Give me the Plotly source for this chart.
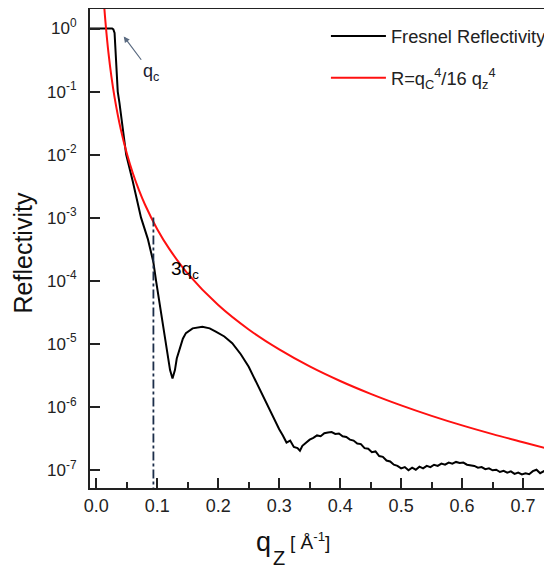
import plotly.graph_objects as go
import math

# ---- data ----
q_fresnel = [-0.0103, 0.0, 0.01, 0.02, 0.026, 0.028, 0.030, 0.0313, 0.033, 0.0352, 0.038, 0.0434,
             0.049, 0.0597, 0.0734, 0.0845, 0.0935, 0.098, 0.1005, 0.105, 0.109, 0.113, 0.117,
             0.121, 0.125, 0.129, 0.132, 0.136, 0.142, 0.147, 0.158, 0.174, 0.186, 0.196, 0.21,
             0.223, 0.237, 0.250, 0.261, 0.275, 0.288, 0.294,
             0.300, 0.306, 0.312, 0.318, 0.324, 0.330, 0.334, 0.338, 0.344, 0.350, 0.356, 0.362,
             0.368, 0.374, 0.380, 0.386, 0.392, 0.398, 0.404, 0.410, 0.416, 0.422, 0.428, 0.434,
             0.440, 0.446, 0.452, 0.458, 0.464, 0.470, 0.476, 0.482, 0.488, 0.494, 0.500, 0.506,
             0.512, 0.518, 0.524, 0.530, 0.536, 0.542, 0.548, 0.554, 0.560, 0.566, 0.572, 0.578,
             0.584, 0.590, 0.596, 0.602, 0.608, 0.614, 0.620, 0.626, 0.632, 0.638, 0.644, 0.650,
             0.656, 0.662, 0.668, 0.674, 0.680, 0.686, 0.692, 0.698, 0.704, 0.710, 0.716, 0.722,
             0.728, 0.734, 0.740, 0.745]
r_fresnel = [1.0, 1.0, 1.0, 1.0, 1.0, 0.97, 0.85, 0.5, 0.2, 0.1, 0.066, 0.025,
             0.01, 3.8e-3, 1.0e-3, 4.6e-4, 2.0e-4, 1.0e-4, 7.0e-5, 4.0e-5, 2.4e-5, 1.3e-5, 7.0e-6,
             3.8e-6, 2.8e-6, 3.8e-6, 5.8e-6, 8.0e-6, 1.2e-5, 1.47e-5, 1.75e-5, 1.86e-5, 1.75e-5, 1.55e-5, 1.3e-5,
             1.02e-5, 6.8e-6, 4.3e-6, 2.6e-6, 1.35e-6, 7.9e-7, 5.8e-7,
             4.4e-7, 3.5e-7, 2.7e-7, 2.9e-7, 2.3e-7, 2.2e-7, 2.0e-7, 2.4e-7, 2.7e-7, 3.0e-7, 3.2e-7, 3.5e-7,
             3.4e-7, 3.8e-7, 3.9e-7, 3.95e-7, 3.7e-7, 3.75e-7, 3.4e-7, 3.3e-7, 3.0e-7, 2.9e-7, 2.6e-7, 2.55e-7,
             2.2e-7, 2.15e-7, 1.9e-7, 1.95e-7, 1.65e-7, 1.6e-7, 1.4e-7, 1.35e-7, 1.2e-7, 1.15e-7, 1.05e-7, 1.1e-7,
             0.98e-7, 1.08e-7, 1.0e-7, 1.12e-7, 1.05e-7, 1.15e-7, 1.1e-7, 1.2e-7, 1.15e-7, 1.25e-7, 1.2e-7, 1.3e-7,
             1.25e-7, 1.33e-7, 1.28e-7, 1.3e-7, 1.2e-7, 1.18e-7, 1.15e-7, 1.08e-7, 1.1e-7, 1.02e-7, 1.05e-7, 0.98e-7,
             1.0e-7, 0.92e-7, 0.96e-7, 0.9e-7, 0.94e-7, 0.86e-7, 0.9e-7, 0.84e-7, 0.88e-7, 0.85e-7, 0.95e-7, 1.0e-7,
             0.88e-7, 0.95e-7, 0.87e-7, 0.9e-7]

q_asym = [0.0128, 0.015, 0.02, 0.025, 0.03, 0.04, 0.05, 0.06, 0.07, 0.08, 0.10, 0.12, 0.15,
          0.20, 0.25, 0.30, 0.35, 0.40, 0.45, 0.50, 0.55, 0.60, 0.65, 0.70, 0.745]
r_asym = [2.4, 1.29, 0.41, 0.168, 0.081, 0.0256, 0.0105, 5.05e-3, 2.73e-3, 1.6e-3, 6.55e-4, 3.16e-4, 1.29e-4,
          4.1e-5, 1.68e-5, 8.1e-6, 4.36e-6, 2.56e-6, 1.6e-6, 1.05e-6, 7.16e-7, 5.05e-7, 3.67e-7, 2.73e-7, 2.1e-7]

q_3qc = [0.0937, 0.0937]
r_3qc = [1.0e-3, 3.0e-8]

x_ticks = [0.0, 0.1, 0.2, 0.3, 0.4, 0.5, 0.6, 0.7]
x_ticklabels = ["0.0", "0.1", "0.2", "0.3", "0.4", "0.5", "0.6", "0.7"]
y_ticks = [1e0, 1e-1, 1e-2, 1e-3, 1e-4, 1e-5, 1e-6, 1e-7]
y_ticklabels = ["10<sup>0</sup>", "10<sup>-1</sup>", "10<sup>-2</sup>", "10<sup>-3</sup>",
                "10<sup>-4</sup>", "10<sup>-5</sup>", "10<sup>-6</sup>", "10<sup>-7</sup>"]

FONT = "Liberation Sans, Arial, sans-serif"

fig = go.Figure()
fig.add_trace(go.Scatter(x=q_fresnel, y=r_fresnel, mode="lines", name="Fresnel Reflectivity",
                         line=dict(color="black", width=2), legendgroup="a"))
fig.add_trace(go.Scatter(x=q_asym, y=r_asym, mode="lines", line_shape="spline",
                         name="R=q<sub>C</sub><sup>4</sup>/16 q<sub>z</sub><sup>4</sup>",
                         line=dict(color="#ff1010", width=2), legendgroup="b"))
fig.add_trace(go.Scatter(x=q_3qc, y=r_3qc, mode="lines", showlegend=False,
                         line=dict(color="#1c2e4a", width=1.8, dash="dashdot")))

# page body has an 8px margin: figure sized so that it fits the 552x569 window exactly
fig.update_layout(
    width=544, height=561,
    margin=dict(l=82, r=0, t=1, b=81),
    paper_bgcolor="white", plot_bgcolor="white",
    font=dict(family=FONT, color="#222", size=16),
    legend=dict(x=0.514, y=0.982, xanchor="left", yanchor="top", bgcolor="rgba(0,0,0,0)",
                font=dict(size=18.3, color="#222"), tracegroupgap=15, itemwidth=55),
    xaxis=dict(range=[-0.0103, 0.7425], showgrid=False, zeroline=False, automargin=False,
               showline=True, linecolor="#222", linewidth=2, mirror=True,
               ticks="inside", ticklen=10, tickwidth=2, tickcolor="#222",
               tickvals=x_ticks, ticktext=x_ticklabels,
               tickfont=dict(size=18, color="#222"),
               minor=dict(dtick=0.05, tick0=0, ticks="inside", ticklen=6, tickwidth=2, tickcolor="#222")),
    yaxis=dict(type="log", range=[-7.29, 0.31], showgrid=False, zeroline=False, automargin=False,
               showline=True, linecolor="#222", linewidth=2, mirror=False,
               ticks="inside", ticklen=10, tickwidth=2, tickcolor="#222",
               tickvals=y_ticks, ticktext=y_ticklabels, ticklabelstandoff=8,
               tickfont=dict(size=17, color="#222")),
)

# positions in window pixels converted to paper coordinates
def px(xw):
    return (xw - 90) / 462

def py(yw):
    return (488 - yw) / 479

# y-axis title
fig.add_annotation(xref="paper", yref="paper", x=px(23), y=py(253),
                   text="Reflectivity", textangle=-90, showarrow=False,
                   font=dict(size=25, color="#111"), xanchor="center", yanchor="middle")

# x-axis title pieces
fig.add_annotation(xref="paper", yref="paper", x=px(265), y=py(542),
                   text="q", showarrow=False, font=dict(size=27, color="#111"),
                   xanchor="center", yanchor="middle")
fig.add_annotation(xref="paper", yref="paper", x=px(280), y=py(558),
                   text="Z", showarrow=False, font=dict(size=20, color="#111"),
                   xanchor="center", yanchor="middle")
fig.add_annotation(xref="paper", yref="paper", x=px(311), y=py(541),
                   text="[ Å<sup>-1</sup>]", showarrow=False, font=dict(size=19, color="#111"),
                   xanchor="center", yanchor="middle")

# q_c label with arrow
fig.add_annotation(x=0.045, y=math.log10(0.75), xref="x", yref="y",
                   text="q<sub>c</sub>", showarrow=True, ax=27, ay=36,
                   arrowhead=2, arrowsize=1, arrowwidth=1.2, arrowcolor="#5a6a80",
                   font=dict(size=18, color="#1a2030"))
# 3 q_c label
fig.add_annotation(x=0.1455, y=math.log10(1.5e-4), xref="x", yref="y",
                   text="3q<sub>c</sub>", showarrow=False,
                   font=dict(size=19, color="black"))

fig.write_html("out.html")
